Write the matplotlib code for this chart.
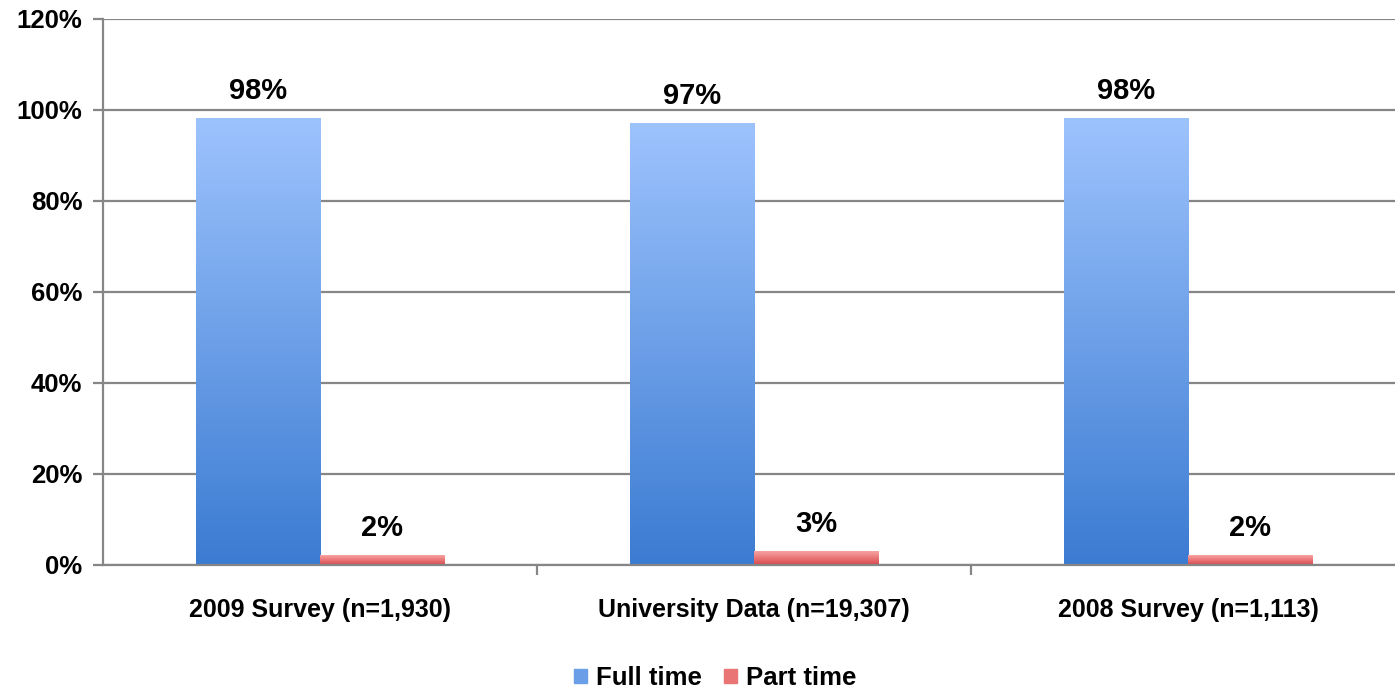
import numpy as np
import matplotlib.pyplot as plt
from matplotlib.colors import LinearSegmentedColormap
from matplotlib.patches import Patch

plt.rcParams['font.family'] = ['Liberation Sans', 'DejaVu Sans']
plt.rcParams['font.weight'] = 'bold'

categories = ['2009 Survey (n=1,930)', 'University Data (n=19,307)', '2008 Survey (n=1,113)']
full_time = [98, 97, 98]
part_time = [2, 3, 2]
series_names = ['Full time', 'Part time']
yticks = [0, 20, 40, 60, 80, 100, 120]

blue_cmap = LinearSegmentedColormap.from_list('blue', ['#3b7bd2', '#9dc3fd'])
red_cmap = LinearSegmentedColormap.from_list('red', ['#d9474a', '#f8a3a3'])

fig = plt.figure(figsize=(13.95, 6.92), dpi=100)
W, H = 1395, 692
left, right, top, bottom = 103, 1395, 18.5, 565
ax = fig.add_axes([left / W, 1 - bottom / H, (right - left) / W, (bottom - top) / H])

grad = np.linspace(0, 1, 256).reshape(-1, 1)
width = 0.286


def gradient_bar(x_center, h, cmap):
    x0 = x_center - width / 2
    ax.imshow(grad, extent=[x0, x0 + width, 0, h], origin='lower', aspect='auto',
              cmap=cmap, zorder=3, interpolation='bicubic')


x = np.arange(len(categories))
for i in x:
    gradient_bar(i - width / 2, full_time[i], blue_cmap)
    gradient_bar(i + width / 2, part_time[i], red_cmap)
    ax.text(i - width / 2, full_time[i] + 3.0, f'{full_time[i]}%', ha='center', va='bottom',
            fontsize=21, fontweight='bold')
    ax.text(i + width / 2, part_time[i] + 3.0, f'{part_time[i]}%', ha='center', va='bottom',
            fontsize=21, fontweight='bold')

ax.set_xlim(-0.5, -0.5 + (right - left) / 434)
ax.set_ylim(0, 120)

ax.set_yticks(yticks)
ax.set_yticklabels([f'{t}%' for t in yticks], fontsize=18.5, fontweight='bold')
ax.yaxis.grid(True, color='#868686', linewidth=1.6, zorder=0)
ax.set_axisbelow(True)

ax.set_xticks([0.5, 1.5])
ax.set_xticklabels([])
ax.set_xticks(x, minor=True)
ax.set_xticklabels(categories, minor=True, fontsize=18, fontweight='bold')
ax.tick_params(axis='x', which='minor', length=0, pad=24)
ax.tick_params(axis='x', which='major', length=7, width=1.6, color='#868686')
ax.tick_params(axis='y', length=7, width=1.6, color='#868686', pad=8)

for s in ['top', 'right']:
    ax.spines[s].set_visible(False)
for s in ['left', 'bottom']:
    ax.spines[s].set_color('#868686')
    ax.spines[s].set_linewidth(1.6)
ax.spines['bottom'].set_zorder(4)

handles = [Patch(color='#6a9fe8'), Patch(color='#ea7575')]
fig.legend(handles, series_names, loc='center', bbox_to_anchor=(715 / W, 1 - 678 / H), ncol=2,
           frameon=False, handlelength=0.52, handleheight=0.45,
           handletextpad=0.35, columnspacing=0.85, prop={'weight': 'bold', 'size': 18.5})

fig.savefig('out.png', dpi=100)
